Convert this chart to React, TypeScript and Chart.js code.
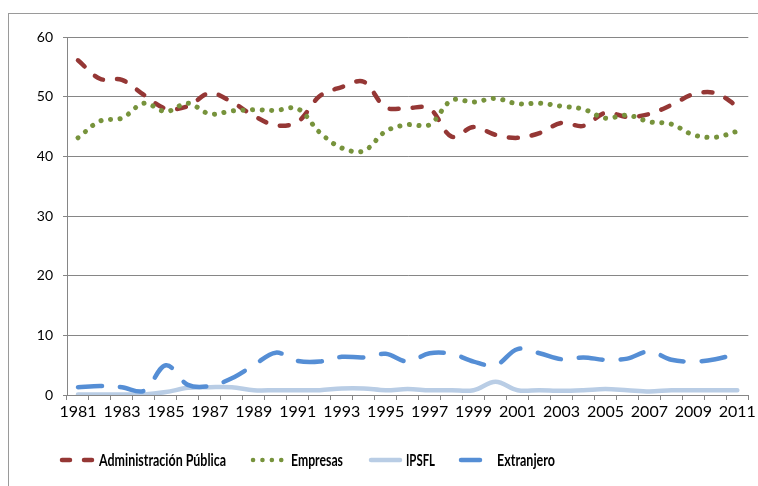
import React, { useEffect, useRef } from "react";
import { Chart, registerables } from "chart.js";

Chart.register(...registerables);

const years = [
  "1981", "1982", "1983", "1984", "1985", "1986", "1987", "1988", "1989", "1990",
  "1991", "1992", "1993", "1994", "1995", "1996", "1997", "1998", "1999", "2000",
  "2001", "2002", "2003", "2004", "2005", "2006", "2007", "2008", "2009", "2010", "2011",
];

const administracion = [
  56.1, 53.0, 52.8, 50.3, 48.0, 48.4, 50.6, 49.1, 46.8, 45.2,
  45.8, 50.1, 51.6, 52.5, 48.2, 48.1, 48.0, 43.3, 44.9, 43.6,
  43.1, 43.9, 45.6, 45.1, 47.3, 46.6, 47.1, 48.6, 50.4, 50.6, 48.4,
];

const empresas = [
  43.1, 45.9, 46.4, 48.9, 47.5, 48.9, 47.1, 47.6, 47.8, 47.7,
  48.0, 44.0, 41.4, 40.9, 44.2, 45.3, 45.3, 49.4, 49.1, 49.7,
  48.8, 48.9, 48.4, 47.9, 46.4, 46.9, 45.8, 45.4, 43.6, 43.2, 44.2,
];

const ipsfl = [
  0.1, 0.1, 0.1, 0.1, 0.5, 1.2, 1.3, 1.3, 0.8, 0.8,
  0.8, 0.8, 1.1, 1.1, 0.8, 1.0, 0.8, 0.8, 0.8, 2.2,
  0.8, 0.8, 0.7, 0.8, 1.0, 0.8, 0.6, 0.8, 0.8, 0.8, 0.8,
];

const extranjero = [
  1.3, 1.5, 1.3, 0.7, 5.0, 1.7, 1.5, 2.8, 5.0, 7.1,
  5.7, 5.6, 6.4, 6.3, 6.9, 5.6, 7.0, 6.9, 5.6, 5.0,
  7.7, 7.0, 6.0, 6.3, 5.9, 6.1, 7.3, 5.9, 5.6, 6.0, 6.9,
];

const seriesNames = ["Administración Pública", "Empresas", "IPSFL", "Extranjero"];
const yTicks = [0, 10, 20, 30, 40, 50, 60];

const RED = "#953735";
const GREEN = "#77933C";
const LIGHTBLUE = "#B9CDE5";
const BLUE = "#558ED5";
const GRID = "#868686";
const FONT = "Lato, 'Open Sans', sans-serif";

const W = 758;
const H = 486;

const legendItems = [
  { name: seriesNames[0], color: RED, dash: [8, 14], x0: 60, x1: 95, tx: 99, tw: 127 },
  { name: seriesNames[1], color: GREEN, dash: [0.1, 9.3], x0: 251, x1: 288, tx: 291, tw: 52 },
  { name: seriesNames[2], color: LIGHTBLUE, dash: [], x0: 369, x1: 402, tx: 406, tw: 29 },
  { name: seriesNames[3], color: BLUE, dash: [], x0: 459, x1: 482, tx: 497, tw: 58 },
];

const framePlugin = {
  id: "frame",
  beforeDraw(chart: any) {
    const ctx = chart.ctx;
    ctx.save();
    ctx.fillStyle = "#ffffff";
    ctx.fillRect(0, 0, chart.width, chart.height);
    ctx.strokeStyle = "#9a9a9a";
    ctx.lineWidth = 1;
    ctx.strokeRect(8.5, 13.5, chart.width + 50, chart.height + 50);
    ctx.restore();
  },
  afterDraw(chart: any) {
    const ctx = chart.ctx;
    const y = 460;
    ctx.save();
    legendItems.forEach((it) => {
      ctx.beginPath();
      ctx.strokeStyle = it.color;
      ctx.lineWidth = 4.5;
      ctx.lineCap = "round";
      ctx.setLineDash(it.dash);
      ctx.moveTo(it.x0 + 2, y);
      ctx.lineTo(it.x1 - 2, y);
      ctx.stroke();
      ctx.setLineDash([]);
      ctx.fillStyle = "#000000";
      ctx.font = `bold 17px ${FONT}`;
      ctx.textBaseline = "middle";
      ctx.textAlign = "left";
      ctx.fillText(it.name, it.tx, y + 1, it.tw);
    });
    ctx.restore();
  },
};

export default function App() {
  const ref = useRef<HTMLCanvasElement>(null);

  useEffect(() => {
    document.documentElement.style.overflow = "hidden";
    document.body.style.overflow = "hidden";
    if (!ref.current) return;
    const common = {
      fill: false,
      pointRadius: 0,
      pointHoverRadius: 0,
      borderWidth: 4.5,
      borderCapStyle: "round" as const,
      borderJoinStyle: "round" as const,
      tension: 0.35,
    };
    const chart = new Chart(ref.current, {
      type: "line",
      data: {
        labels: years,
        datasets: [
          { ...common, label: seriesNames[0], data: administracion, borderColor: RED, borderDash: [9, 14], order: 4 },
          { ...common, label: seriesNames[1], data: empresas, borderColor: GREEN, borderDash: [0.1, 9.5], borderWidth: 5, order: 3 },
          { ...common, label: seriesNames[2], data: ipsfl, borderColor: LIGHTBLUE, order: 2 },
          { ...common, label: seriesNames[3], data: extranjero, borderColor: BLUE, borderDash: [24, 18], order: 1 },
        ],
      },
      options: {
        responsive: false,
        animation: false,
        devicePixelRatio: 1,
        layout: { padding: { left: 8, right: 8, top: 37, bottom: 8 } },
        plugins: {
          legend: { display: false },
          tooltip: { enabled: false },
        },
        scales: {
          x: {
            type: "category",
            offset: true,
            afterFit(scale: any) {
              scale.height = 83;
            },
            grid: {
              offset: true,
              drawOnChartArea: false,
              drawTicks: true,
              tickLength: 5,
              color: GRID,
            },
            border: { display: true, color: GRID, width: 1 },
            ticks: {
              autoSkip: false,
              maxRotation: 0,
              minRotation: 0,
              padding: 2,
              color: "#000000",
              font: { family: FONT, size: 16 },
              callback: (_v: any, i: number) => (i % 2 === 0 ? years[i] : ""),
            },
          },
          y: {
            min: yTicks[0],
            max: yTicks[yTicks.length - 1],
            afterFit(scale: any) {
              scale.width = 59;
            },
            afterBuildTicks(scale: any) {
              scale.ticks = yTicks.map((v) => ({ value: v }));
            },
            grid: {
              color: GRID,
              lineWidth: 1,
              drawTicks: true,
              tickLength: 4,
            },
            border: { display: true, color: GRID, width: 1 },
            ticks: {
              padding: 10,
              color: "#000000",
              font: { family: FONT, size: 14 },
            },
          },
        },
      },
      plugins: [framePlugin],
    });
    return () => chart.destroy();
  }, []);

  return (
    <div style={{ position: "fixed", left: 0, top: 0, width: W, height: H }}>
      <canvas ref={ref} width={W} height={H} style={{ display: "block", width: W, height: H }} />
    </div>
  );
}
